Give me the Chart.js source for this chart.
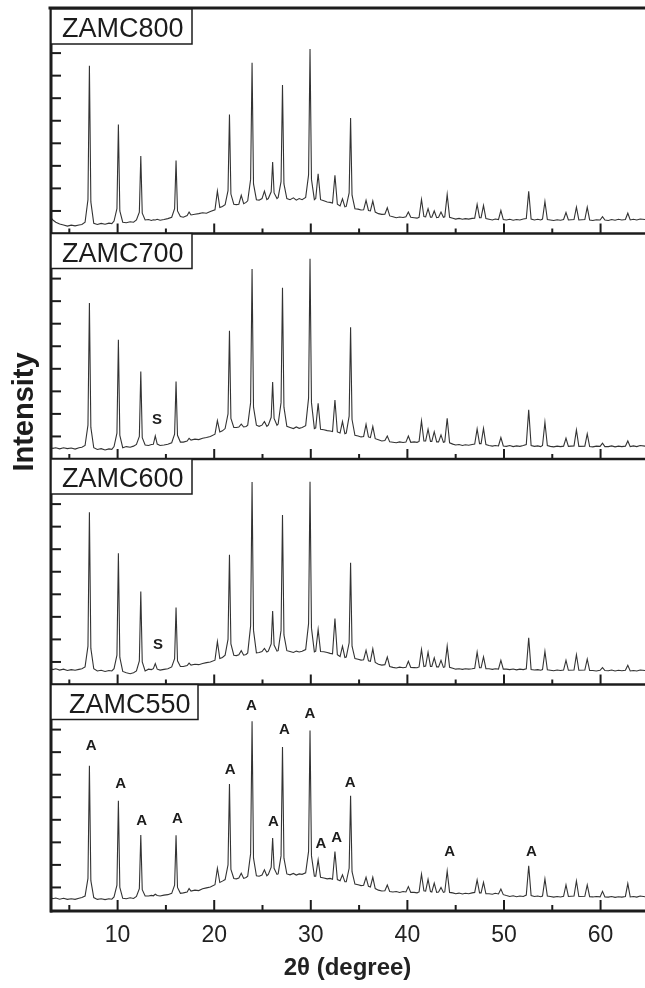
<!DOCTYPE html>
<html>
<head>
<meta charset="utf-8">
<title>XRD patterns of ZAMC samples</title>
<script src="https://cdn.jsdelivr.net/npm/chart.js@4.4.1/dist/chart.umd.min.js"></script>
<style>
  html, body { margin: 0; padding: 0; background: #fff; }
  canvas { display: block; }
</style>
</head>
<body>
<canvas id="xrd" width="645" height="988"></canvas>
<script>
// 2theta grid shared by the four patterns (degrees)
const twoTheta = [
  3.0, 3.3, 3.6, 4.0, 4.4, 4.8, 5.2, 5.6, 6.0, 6.3,
  6.63, 6.93, 7.08, 7.23, 7.53, 7.9, 8.3, 8.7, 9.1, 9.4,
  9.63, 9.93, 10.08, 10.23, 10.53, 10.9, 11.3, 11.65, 11.95, 12.25,
  12.4, 12.55, 12.85, 13.2, 13.5, 13.7, 13.9, 14.1, 14.4, 14.8,
  15.2, 15.6, 15.9, 16.05, 16.2, 16.5, 16.8, 17.2, 17.4, 17.6,
  18.0, 18.4, 18.8, 19.2, 19.6, 20.08, 20.33, 20.58, 20.85, 21.13,
  21.43, 21.58, 21.73, 22.03, 22.3, 22.55, 22.8, 23.05, 23.3, 23.47,
  23.77, 23.92, 24.07, 24.37, 24.65, 24.95, 25.2, 25.45, 25.6, 25.9,
  26.05, 26.2, 26.5, 26.62, 26.92, 27.07, 27.22, 27.52, 27.85, 28.2,
  28.5, 28.8, 29.1, 29.47, 29.77, 29.92, 30.07, 30.37, 30.51, 30.76,
  31.01, 31.35, 31.7, 32.0, 32.25, 32.5, 32.75, 33.03, 33.28, 33.53,
  33.67, 33.97, 34.12, 34.27, 34.57, 34.9, 35.2, 35.47, 35.72, 35.97,
  36.17, 36.42, 36.67, 37.0, 37.35, 37.67, 37.92, 38.17, 38.5, 38.85,
  39.2, 39.55, 39.85, 40.1, 40.35, 40.7, 41.0, 41.21, 41.46, 41.71,
  41.89, 42.14, 42.39, 42.53, 42.78, 43.03, 43.23, 43.48, 43.73, 43.87,
  44.12, 44.37, 44.7, 45.0, 45.35, 45.7, 46.0, 46.35, 46.7, 46.97,
  47.22, 47.47, 47.63, 47.88, 48.13, 48.45, 48.8, 49.1, 49.43, 49.68,
  49.93, 50.25, 50.6, 50.95, 51.3, 51.65, 52.0, 52.31, 52.56, 52.81,
  53.15, 53.5, 53.8, 53.99, 54.24, 54.49, 54.8, 55.15, 55.5, 55.85,
  56.17, 56.42, 56.67, 57.25, 57.5, 57.75, 58.37, 58.62, 58.87, 59.2,
  59.55, 59.95, 60.2, 60.45, 60.8, 61.15, 61.5, 61.85, 62.2, 62.57,
  62.82, 63.07, 63.4, 63.75, 64.1, 64.6
];

// intensities (arbitrary units, 0-10 per panel)
const i800 = [
  0.74, 0.6, 0.5, 0.42, 0.38, 0.33, 0.37, 0.34, 0.38, 0.4,
  0.5, 1.5, 7.44, 1.4, 0.45, 0.4, 0.45, 0.41, 0.46, 0.44,
  0.55, 1.1, 4.83, 1.0, 0.5, 0.48, 0.52, 0.5, 0.6, 0.95,
  3.44, 0.9, 0.6, 0.62, 0.58, 0.61, 0.6, 0.63, 0.59, 0.62,
  0.66, 0.72, 1.1, 3.24, 1.0, 0.75, 0.72, 0.8, 0.95, 0.82,
  0.85, 0.88, 0.92, 0.9, 0.98, 1.05, 1.88, 1.15, 1.2, 1.28,
  1.9, 5.28, 1.75, 1.3, 1.28, 1.3, 1.69, 1.32, 1.38, 1.45,
  2.4, 7.57, 2.2, 1.5, 1.48, 1.55, 1.88, 1.5, 1.55, 1.85,
  3.17, 1.8, 1.55, 1.6, 2.3, 6.58, 2.2, 1.55, 1.5, 1.58,
  1.48, 1.55, 1.5, 1.6, 2.6, 8.18, 2.4, 1.5, 1.55, 2.65,
  1.5, 1.45, 1.4, 1.38, 1.35, 2.58, 1.3, 1.22, 1.54, 1.18,
  1.2, 1.8, 5.12, 1.7, 1.1, 1.08, 1.04, 1.05, 1.47, 1.02,
  1.0, 1.44, 0.95, 0.88, 0.85, 0.86, 1.14, 0.78, 0.74, 0.7,
  0.73, 0.71, 0.74, 0.95, 0.72, 0.7, 0.68, 0.72, 1.51, 0.75,
  0.74, 1.1, 0.72, 0.72, 1.0, 0.7, 0.72, 0.95, 0.72, 0.74,
  1.73, 0.72, 0.68, 0.64, 0.67, 0.63, 0.66, 0.64, 0.67, 0.68,
  1.29, 0.7, 0.7, 1.24, 0.66, 0.63, 0.6, 0.64, 0.62, 1.02,
  0.62, 0.6, 0.63, 0.59, 0.62, 0.6, 0.64, 0.66, 1.87, 0.64,
  0.6, 0.63, 0.6, 0.64, 1.42, 0.62, 0.6, 0.58, 0.61, 0.59,
  0.62, 0.93, 0.6, 0.62, 1.17, 0.6, 0.62, 1.17, 0.6, 0.58,
  0.61, 0.6, 0.75, 0.6, 0.58, 0.62, 0.59, 0.63, 0.6, 0.62,
  0.9, 0.6, 0.63, 0.6, 0.64, 0.62
];
const i700 = [
  0.52, 0.47, 0.5, 0.45, 0.5, 0.46, 0.49, 0.44, 0.5, 0.52,
  0.6, 1.5, 6.92, 1.4, 0.5, 0.42, 0.46, 0.4, 0.45, 0.43,
  0.55, 1.15, 5.29, 1.05, 0.5, 0.55, 0.52, 0.57, 0.65, 1.0,
  3.88, 0.95, 0.62, 0.6, 0.64, 0.65, 1.02, 0.66, 0.6, 0.62,
  0.65, 0.72, 1.1, 3.44, 1.05, 0.75, 0.75, 0.8, 0.92, 0.84,
  0.88, 0.86, 0.92, 0.95, 1.0, 1.1, 1.7, 1.2, 1.25, 1.35,
  2.0, 5.69, 1.8, 1.4, 1.4, 1.42, 1.55, 1.42, 1.44, 1.5,
  2.5, 8.43, 2.3, 1.5, 1.45, 1.5, 1.66, 1.45, 1.5, 1.85,
  3.41, 1.8, 1.5, 1.55, 2.5, 7.59, 2.3, 1.45, 1.4, 1.35,
  1.42, 1.36, 1.4, 1.48, 2.7, 8.88, 2.5, 1.35, 1.38, 2.47,
  1.32, 1.3, 1.26, 1.24, 1.22, 2.62, 1.2, 1.15, 1.66, 1.12,
  1.15, 1.9, 5.84, 1.75, 1.05, 1.02, 0.98, 1.0, 1.54, 0.98,
  0.95, 1.44, 0.9, 0.85, 0.8, 0.82, 1.02, 0.76, 0.74, 0.72,
  0.76, 0.73, 0.75, 1.02, 0.74, 0.76, 0.74, 0.78, 1.69, 0.8,
  0.8, 1.32, 0.78, 0.78, 1.21, 0.76, 0.76, 1.07, 0.74, 0.76,
  1.81, 0.72, 0.66, 0.62, 0.64, 0.6, 0.63, 0.61, 0.64, 0.66,
  1.33, 0.68, 0.68, 1.36, 0.64, 0.6, 0.57, 0.6, 0.58, 0.95,
  0.58, 0.56, 0.6, 0.55, 0.58, 0.56, 0.6, 0.64, 2.18, 0.6,
  0.56, 0.58, 0.55, 0.6, 1.63, 0.6, 0.56, 0.54, 0.57, 0.55,
  0.57, 0.92, 0.56, 0.58, 1.29, 0.56, 0.57, 1.11, 0.55, 0.54,
  0.57, 0.56, 0.7, 0.55, 0.55, 0.58, 0.54, 0.57, 0.55, 0.57,
  0.8, 0.55, 0.58, 0.55, 0.6, 0.57
];
const i600 = [
  0.72, 0.66, 0.7, 0.64, 0.68, 0.62, 0.66, 0.63, 0.67, 0.7,
  0.78, 1.7, 7.64, 1.6, 0.7, 0.6, 0.63, 0.58, 0.62, 0.6,
  0.7, 1.3, 5.82, 1.2, 0.58, 0.52, 0.48, 0.52, 0.6, 1.05,
  4.12, 1.0, 0.6, 0.68, 0.66, 0.7, 0.93, 0.68, 0.64, 0.67,
  0.7, 0.78, 1.15, 3.41, 1.05, 0.8, 0.8, 0.84, 0.95, 0.86,
  0.9, 0.88, 0.93, 0.97, 1.0, 1.08, 1.9, 1.15, 1.2, 1.3,
  2.0, 5.75, 1.8, 1.3, 1.28, 1.32, 1.5, 1.3, 1.33, 1.4,
  2.6, 8.98, 2.4, 1.4, 1.42, 1.46, 1.6, 1.44, 1.48, 1.8,
  3.26, 1.75, 1.48, 1.5, 2.4, 7.52, 2.2, 1.5, 1.46, 1.42,
  1.48, 1.44, 1.47, 1.55, 2.7, 8.99, 2.5, 1.45, 1.48, 2.44,
  1.46, 1.45, 1.42, 1.38, 1.36, 2.93, 1.32, 1.24, 1.7, 1.2,
  1.22, 1.85, 5.4, 1.7, 1.15, 1.12, 1.08, 1.1, 1.52, 1.05,
  1.03, 1.58, 0.98, 0.9, 0.86, 0.88, 1.22, 0.8, 0.76, 0.73,
  0.77, 0.74, 0.76, 1.03, 0.76, 0.75, 0.74, 0.78, 1.55, 0.8,
  0.82, 1.43, 0.8, 0.8, 1.18, 0.78, 0.78, 1.07, 0.76, 0.78,
  1.7, 0.76, 0.72, 0.68, 0.7, 0.67, 0.7, 0.68, 0.7, 0.72,
  1.43, 0.74, 0.74, 1.22, 0.7, 0.7, 0.67, 0.7, 0.68, 1.07,
  0.68, 0.68, 0.66, 0.69, 0.65, 0.68, 0.66, 0.7, 2.07, 0.66,
  0.64, 0.66, 0.63, 0.66, 1.47, 0.65, 0.63, 0.61, 0.64, 0.62,
  0.64, 1.07, 0.63, 0.64, 1.32, 0.63, 0.64, 1.13, 0.62, 0.62,
  0.6, 0.63, 0.75, 0.62, 0.61, 0.64, 0.6, 0.63, 0.61, 0.63,
  0.85, 0.6, 0.62, 0.6, 0.64, 0.62
];
const i550 = [
  0.56, 0.5, 0.53, 0.48, 0.52, 0.47, 0.5, 0.47, 0.52, 0.55,
  0.62, 1.4, 6.4, 1.3, 0.55, 0.47, 0.5, 0.46, 0.5, 0.48,
  0.58, 1.1, 4.84, 1.0, 0.52, 0.5, 0.54, 0.51, 0.6, 0.95,
  3.33, 0.9, 0.62, 0.62, 0.65, 0.63, 0.7, 0.64, 0.62, 0.66,
  0.68, 0.74, 1.1, 3.31, 1.0, 0.74, 0.76, 0.8, 0.95, 0.84,
  0.88, 0.86, 0.94, 0.98, 1.02, 1.12, 1.85, 1.22, 1.28, 1.35,
  2.0, 5.59, 1.8, 1.4, 1.38, 1.42, 1.63, 1.4, 1.44, 1.5,
  2.5, 8.37, 2.3, 1.52, 1.5, 1.55, 1.78, 1.52, 1.58, 1.9,
  3.19, 1.85, 1.58, 1.6, 2.4, 7.23, 2.3, 1.6, 1.56, 1.62,
  1.55, 1.6, 1.58, 1.65, 2.6, 7.96, 2.4, 1.5, 1.5, 2.22,
  1.45, 1.42, 1.38, 1.4, 1.36, 2.59, 1.35, 1.3, 1.56, 1.25,
  1.25, 1.85, 5.07, 1.7, 1.15, 1.12, 1.08, 1.1, 1.45, 1.05,
  1.02, 1.45, 0.95, 0.88, 0.84, 0.85, 1.11, 0.82, 0.8, 0.82,
  0.78, 0.82, 0.8, 1.04, 0.78, 0.78, 0.76, 0.8, 1.59, 0.85,
  0.84, 1.36, 0.82, 0.8, 1.19, 0.78, 0.8, 1.0, 0.78, 0.8,
  1.73, 0.78, 0.76, 0.72, 0.75, 0.71, 0.74, 0.72, 0.76, 0.78,
  1.33, 0.76, 0.76, 1.23, 0.72, 0.72, 0.7, 0.74, 0.71, 0.93,
  0.68, 0.64, 0.6, 0.63, 0.59, 0.62, 0.6, 0.66, 1.96, 0.64,
  0.6, 0.62, 0.59, 0.62, 1.38, 0.62, 0.6, 0.57, 0.6, 0.58,
  0.61, 1.11, 0.6, 0.62, 1.29, 0.6, 0.61, 1.11, 0.59, 0.58,
  0.6, 0.58, 0.83, 0.58, 0.57, 0.6, 0.56, 0.59, 0.57, 0.6,
  1.17, 0.58, 0.6, 0.57, 0.62, 0.59
];

const sampleNames = ['ZAMC800', 'ZAMC700', 'ZAMC600', 'ZAMC550'];
const xMajorTicks = [10, 20, 30, 40, 50, 60];
const xMinorTicks = [5, 15, 25, 35, 45, 55];

// "A" labels over the ZAMC550 reflections (2theta, height)
const markA2theta = [7.25, 10.31, 12.48, 16.19, 21.65, 23.86, 26.12, 27.27, 29.91, 31.06, 32.67, 34.08, 44.39, 52.83];
const markAHeight = [7.28, 5.6, 3.96, 4.04, 6.21, 9.05, 3.9, 7.99, 8.7, 2.92, 3.19, 5.63, 2.6, 2.6];
// "S" labels in ZAMC700 and ZAMC600
const markSSample = ['ZAMC700', 'ZAMC600'];
const markS2theta = [14.07, 14.17];
const markSHeight = [1.73, 1.78];

if ([i800, i700, i600, i550].some(a => a.length !== twoTheta.length)) {
  throw new Error('series length mismatch');
}

const series = [i800, i700, i600, i550];
const axisOf = name => 'y' + name.slice(4);

const ink = '#1c1c1c';

const framePlugin = {
  id: 'xrdFrame',
  afterDraw(chart) {
    const {ctx, chartArea: a, scales} = chart;
    const xs = scales.x;
    const seg = (x1, y1, x2, y2) => {
      ctx.beginPath(); ctx.moveTo(x1, y1); ctx.lineTo(x2, y2); ctx.stroke();
    };
    ctx.save();
    ctx.strokeStyle = ink;
    ctx.fillStyle = ink;

    sampleNames.forEach((name, k) => {
      const s = scales[axisOf(name)];
      // inward ticks on the left edge
      ctx.lineWidth = 2;
      for (let v = 1; v < 10; v++) {
        const y = s.getPixelForValue(v);
        seg(a.left, y, a.left + 11, y);
      }
      // inward ticks on the base line of each panel
      const yb = s.getPixelForValue(0);
      xMajorTicks.forEach(t => { const px = xs.getPixelForValue(t); seg(px, yb, px, yb - 10); });
      xMinorTicks.forEach(t => { const px = xs.getPixelForValue(t); seg(px, yb, px, yb - 5); });
      const last = k === sampleNames.length - 1;
      ctx.lineWidth = last ? 3 : 2.3;
      seg(a.left, last ? yb + 1 : yb, a.right, last ? yb + 1 : yb);
    });

    // outer frame: top and left
    ctx.lineWidth = 3;
    seg(a.left - 1.5, a.top, a.right, a.top);
    seg(a.left + 1, a.top, a.left + 1, a.bottom + 2.5);

    // sample name boxes
    sampleNames.forEach((name, k) => {
      const s = scales[axisOf(name)];
      const last = k === sampleNames.length - 1;
      const w = last ? 147 : 141;
      const top = s.getPixelForValue(10) + (k === 0 ? 1 : 0);
      ctx.fillStyle = '#fff';
      ctx.fillRect(a.left + 1, top, w, 35);
      ctx.lineWidth = 1.5;
      ctx.strokeRect(a.left + 1, top, w, 35);
      ctx.fillStyle = ink;
      ctx.font = '27px "Liberation Sans", Arial, sans-serif';
      ctx.textAlign = 'left';
      ctx.textBaseline = 'alphabetic';
      ctx.fillText(name, a.left + (last ? 19 : 12), top + 28);
    });

    // phase markers
    ctx.font = 'bold 15px "Liberation Sans", Arial, sans-serif';
    ctx.textAlign = 'center';
    ctx.textBaseline = 'middle';
    const s550 = scales.y550;
    markA2theta.forEach((t, i) => {
      ctx.fillText('A', xs.getPixelForValue(t), s550.getPixelForValue(markAHeight[i]));
    });
    markS2theta.forEach((t, i) => {
      const s = scales[axisOf(markSSample[i])];
      ctx.fillText('S', xs.getPixelForValue(t), s.getPixelForValue(markSHeight[i]));
    });

    // y-axis title
    ctx.save();
    ctx.translate(33, 412);
    ctx.rotate(-Math.PI / 2);
    ctx.font = 'bold 29px "Liberation Sans", Arial, sans-serif';
    ctx.textAlign = 'center';
    ctx.textBaseline = 'alphabetic';
    ctx.fillText('Intensity', 0, 0);
    ctx.restore();

    ctx.restore();
  }
};

const yScale = () => ({
  type: 'linear',
  position: 'left',
  stack: 'xrd',
  stackWeight: 1,
  min: 0,
  max: 10,
  grid: { display: false },
  border: { display: false },
  ticks: { display: false },
  afterFit: s => { s.width = 50; }
});

new Chart(document.getElementById('xrd'), {
  type: 'line',
  data: {
    datasets: sampleNames.map((name, k) => ({
      label: name,
      yAxisID: axisOf(name),
      data: twoTheta.map((t, i) => ({ x: t, y: series[k][i] })),
      borderColor: '#333',
      borderWidth: 1.1,
      pointRadius: 0,
      tension: 0,
      fill: false
    }))
  },
  options: {
    responsive: false,
    animation: false,
    devicePixelRatio: 1,
    parsing: false,
    layout: { padding: { top: 8, left: 0, right: 0, bottom: 0 } },
    plugins: { legend: { display: false }, tooltip: { enabled: false } },
    scales: {
      x: {
        type: 'linear',
        position: 'bottom',
        min: 3,
        max: 64.6,
        grid: { display: false },
        border: { display: false },
        afterBuildTicks: s => { s.ticks = xMajorTicks.map(v => ({ value: v })); },
        afterFit: s => { s.height = 78; },
        ticks: {
          color: '#222',
          padding: 4,
          font: { family: '"Liberation Sans", Arial, sans-serif', size: 23 }
        },
        title: {
          display: true,
          text: '2θ (degree)',
          color: '#222',
          padding: { top: 0, bottom: 5 },
          font: { family: '"Liberation Sans", Arial, sans-serif', size: 24, weight: 'bold' }
        }
      },
      y550: yScale(),
      y600: yScale(),
      y700: yScale(),
      y800: yScale()
    }
  },
  plugins: [framePlugin]
});
</script>
</body>
</html>
